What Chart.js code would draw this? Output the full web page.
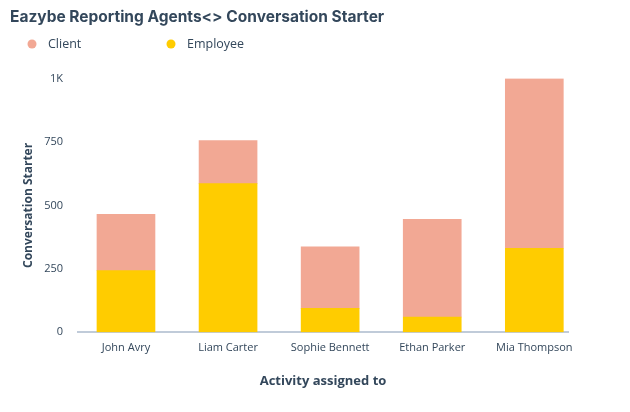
<!DOCTYPE html>
<html>
<head>
<meta charset="utf-8">
<script src="https://cdn.jsdelivr.net/npm/chart.js@4.4.0/dist/chart.umd.min.js"></script>
<style>
  html, body { margin: 0; padding: 0; background: #fff; }
  #wrap { width: 630px; height: 412px; }
</style>
</head>
<body>
<div id="wrap"><canvas id="myChart" width="630" height="412"></canvas></div>
<script>
// data
var agents = ['John Avry', 'Liam Carter', 'Sophie Bennett', 'Ethan Parker', 'Mia Thompson'];
var employee = [243, 586, 94, 60, 331];
var client = [222, 170, 243, 385, 669];
var yTicks = [0, 250, 500, 750, 1000];

var textColor = '#33475b';

// legend drawn by hand so the spacing matches the original
var legendPlugin = {
    id: 'topLegend',
    afterDraw: function (chart) {
        var ctx = chart.ctx;
        var items = [chart.data.datasets[1], chart.data.datasets[0]];
        var xs = [32, 171];
        ctx.save();
        ctx.font = '12.5px "Open Sans"';
        ctx.textBaseline = 'middle';
        for (var i = 0; i < items.length; i++) {
            ctx.fillStyle = items[i].backgroundColor;
            ctx.beginPath();
            ctx.arc(xs[i], 44, 4.5, 0, Math.PI * 2);
            ctx.fill();
            ctx.fillStyle = textColor;
            ctx.fillText(items[i].label, xs[i] + 16, 44);
        }
        ctx.restore();
    }
};

var ctx = document.getElementById('myChart').getContext('2d');
var chart = new Chart(ctx, {
    type: 'bar',
    data: {
        datasets: [{
            label: 'Employee',
            backgroundColor: '#ffcc00',
            data: employee.map(function (v, i) { return {x: i, y: v}; })
        }, {
            label: 'Client',
            backgroundColor: '#f2a894',
            data: client.map(function (v, i) { return {x: i, y: v}; })
        }]
    },
    options: {
        responsive: false,
        animation: false,
        barThickness: 58,
        layout: { padding: { left: 10, right: 62, top: 0, bottom: 19 } },
        plugins: {
            legend: { display: false },
            tooltip: { enabled: false },
            title: {
                display: true,
                text: 'Eazybe Reporting Agents<> Conversation Starter',
                align: 'start',
                color: textColor,
                font: { family: 'Inter', size: 15.5, weight: 'bold' },
                padding: { top: 8, bottom: 52 }
            }
        },
        scales: {
            x: {
                type: 'linear',
                stacked: true,
                offset: false,
                min: -0.47,
                max: 4.33,
                grid: { display: false, drawTicks: false, offset: false },
                border: { display: true, color: '#c0cbd9', width: 2 },
                ticks: {
                    stepSize: 1,
                    includeBounds: false,
                    autoSkip: false,
                    maxRotation: 0,
                    padding: 9,
                    color: textColor,
                    font: { family: 'Open Sans', size: 11 },
                    callback: function (v) { return Number.isInteger(v) ? agents[v] : ''; }
                },
                title: {
                    display: true,
                    text: 'Activity assigned to',
                    color: textColor,
                    font: { family: 'Open Sans', size: 13, weight: 'bold' },
                    padding: { top: 10, bottom: 4 }
                }
            },
            y: {
                stacked: true,
                min: 0,
                max: 1000,
                afterBuildTicks: function (scale) {
                    scale.ticks = yTicks.map(function (v) { return {value: v}; });
                },
                afterFit: function (scale) { scale.width = 68; },
                grid: { display: false, drawTicks: false },
                border: { display: false },
                ticks: {
                    padding: 15,
                    color: textColor,
                    font: { family: 'Open Sans', size: 11 },
                    callback: function (v) { return v === 1000 ? '1K' : v; }
                },
                title: {
                    display: true,
                    text: 'Conversation Starter',
                    color: textColor,
                    font: { family: 'Open Sans', size: 12, weight: 'bold' },
                    padding: { top: 11, bottom: 0 }
                }
            }
        }
    },
    plugins: [legendPlugin]
});
</script>
</body>
</html>
